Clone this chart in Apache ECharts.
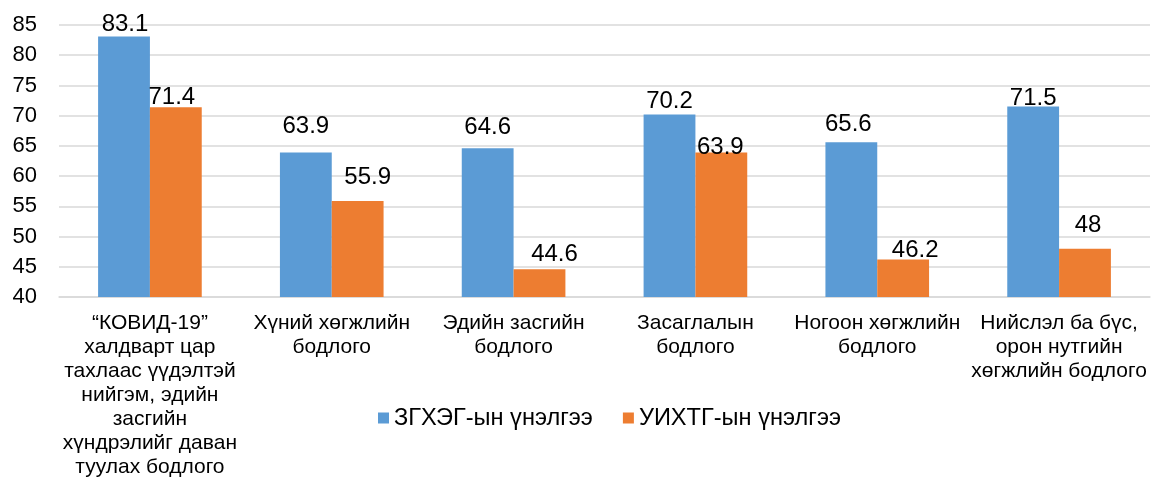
<!DOCTYPE html>
<html>
<head>
<meta charset="utf-8">
<script src="https://cdn.jsdelivr.net/npm/echarts@6/dist/echarts.min.js"></script>
<style>
html,body{margin:0;padding:0;background:#fff;}
#chart{width:1151px;height:480px;}
</style>
</head>
<body>
<div id="chart"></div>
<script>
var categories = [
  "“КОВИД-19”\nхалдварт цар\nтахлаас үүдэлтэй\nнийгэм, эдийн\nзасгийн\nхүндрэлийг даван\nтуулах бодлого",
  "Хүний хөгжлийн\nбодлого",
  "Эдийн засгийн\nбодлого",
  "Засаглалын\nбодлого",
  "Ногоон хөгжлийн\nбодлого",
  "Нийслэл ба бүс,\nорон нутгийн\nхөгжлийн бодлого"
];
var seriesNames = ["ЗГХЭГ-ын үнэлгээ", "УИХТГ-ын үнэлгээ"];
var zghegValues = [83.1, 63.9, 64.6, 70.2, 65.6, 71.5];
var uikhtgValues = [71.4, 55.9, 44.6, 63.9, 46.2, 48];
var yMin = 40, yMax = 85, yStep = 5;

// label placement tweaks (style only, as in the reference's hand-placed labels)
var blueLabelShift = [[1, 0], [0, -14], [0, -9], [0, -1], [-3, -6], [0, 4]];
var orangeLabelShift = [[-4, 2], [10, -12], [15, -3], [-1, 7], [12, 3], [3, -11]];

var font = "Liberation Sans, Arial, sans-serif";
var chart = echarts.init(document.getElementById('chart'), null, {renderer: 'canvas'});
function labelStyle() {
  return {show: true, position: 'top', distance: 0, fontSize: 24, color: '#000', fontFamily: font};
}
function buildData(values, shifts) {
  return values.map(function (v, i) {
    return {value: v, label: {offset: shifts[i]}};
  });
}
chart.setOption({
  animation: false,
  textStyle: {fontFamily: font},
  grid: {left: 59, right: 1, top: 25, bottom: 183, containLabel: false},
  legend: {
    left: 373, top: 401,
    itemWidth: 11, itemHeight: 11, itemGap: 30,
    icon: 'rect',
    textStyle: {fontSize: 23.6, color: '#000', fontFamily: font},
    data: seriesNames
  },
  xAxis: {
    type: 'category',
    data: categories,
    axisTick: {show: false},
    axisLine: {lineStyle: {color: '#d9d9d9', width: 1.5}},
    axisLabel: {interval: 0, fontSize: 21, lineHeight: 24, color: '#000', margin: 14, fontFamily: font}
  },
  yAxis: {
    type: 'value',
    min: yMin, max: yMax, interval: yStep,
    axisLine: {show: false},
    axisTick: {show: false},
    axisLabel: {fontSize: 22, color: '#000', margin: 22, fontFamily: font},
    splitLine: {lineStyle: {color: '#d9d9d9', width: 1.5}}
  },
  series: [
    {name: seriesNames[0], type: 'bar', data: buildData(zghegValues, blueLabelShift), barGap: '0%', barCategoryGap: '43%',
     itemStyle: {color: '#5b9bd5'}, label: labelStyle()},
    {name: seriesNames[1], type: 'bar', data: buildData(uikhtgValues, orangeLabelShift),
     itemStyle: {color: '#ed7d31'}, label: labelStyle()}
  ]
});
</script>
</body>
</html>
